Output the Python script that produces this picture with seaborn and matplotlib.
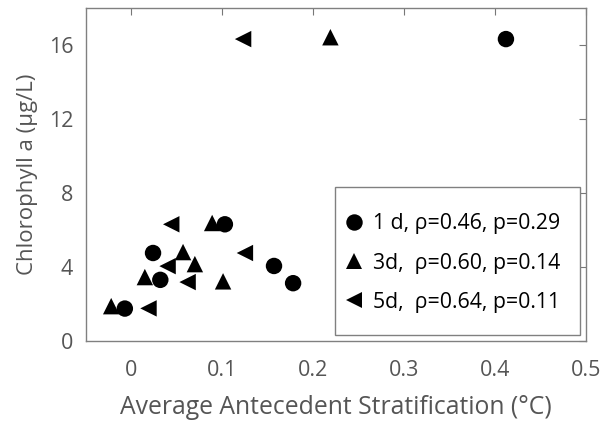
import matplotlib
matplotlib.use("Agg")
import matplotlib.pyplot as plt
from matplotlib.patches import Rectangle
import seaborn as sns
import pandas as pd

# 1 d series
x1 = [0.412, -0.007, 0.024, 0.032, 0.103, 0.157, 0.178]
y1 = [16.3, 1.75, 4.75, 3.3, 6.3, 4.05, 3.12]
# 3 d series
x3 = [0.219, -0.022, 0.015, 0.057, 0.070, 0.089, 0.101]
y3 = [16.4, 1.88, 3.45, 4.8, 4.15, 6.37, 3.22]
# 5 d series
x5 = [0.123, 0.044, 0.040, 0.062, 0.019, 0.125]
y5 = [16.3, 6.3, 4.04, 3.18, 1.76, 4.75]

labels = ["1 d, \u03c1=0.46, p=0.29", "3d,  \u03c1=0.60, p=0.14", "5d,  \u03c1=0.64, p=0.11"]
xticks = [0, 0.1, 0.2, 0.3, 0.4, 0.5]
xticklabels = ["0", "0.1", "0.2", "0.3", "0.4", "0.5"]
yticks = [0, 4, 8, 12, 16]

df = pd.concat([
    pd.DataFrame({"x": x1, "y": y1, "series": labels[0]}),
    pd.DataFrame({"x": x3, "y": y3, "series": labels[1]}),
    pd.DataFrame({"x": x5, "y": y5, "series": labels[2]}),
], ignore_index=True)

sns.set_style("white")
plt.rcParams["font.family"] = ["Open Sans", "DejaVu Sans"]

fig = plt.figure(figsize=(6.02, 4.22), dpi=100)
ax = fig.add_axes([0.1424, 0.192, 0.8310, 0.790])

sns.scatterplot(data=df, x="x", y="y", style="series",
                markers={labels[0]: "o", labels[1]: "^", labels[2]: "<"},
                color="black", s=140, linewidth=0, ax=ax, legend=True)

ax.set_xlim(-0.05, 0.5)
ax.set_ylim(0, 18)
ax.set_xticks(xticks)
ax.set_xticklabels(xticklabels)
ax.set_yticks(yticks)
gray = "#555555"
ax.tick_params(direction="in", length=5, width=0.8, color="#777777",
               top=True, right=True, labelsize=15.5, labelcolor=gray)
ax.tick_params(axis="x", pad=14)
ax.tick_params(axis="y", pad=9)
for sp in ax.spines.values():
    sp.set_color("#808080")
    sp.set_linewidth(1.0)
ax.set_xlabel("Average Antecedent Stratification (\u00b0C)", fontsize=17.8, color=gray, labelpad=10)
ax.set_ylabel("Chlorophyll a (\u03bcg/L)", fontsize=16, color=gray, labelpad=8)

# legend frame (MATLAB-style box)
ax.add_patch(Rectangle((0.498, 0.018), 0.490, 0.444, transform=ax.transAxes,
                       facecolor="white", edgecolor="#808080", linewidth=1.0, zorder=5))
leg = ax.legend(loc="center left", bbox_to_anchor=(343.6 / 602, (422 - 263) / 422),
                bbox_transform=fig.transFigure, frameon=False,
                fontsize=15.3, handletextpad=0.4, labelspacing=0.86, borderpad=0,
                handlelength=1.0, borderaxespad=0)
leg.set_zorder(6)
for t in leg.get_texts():
    t.set_color("black")

fig.savefig("out.png", dpi=100)
